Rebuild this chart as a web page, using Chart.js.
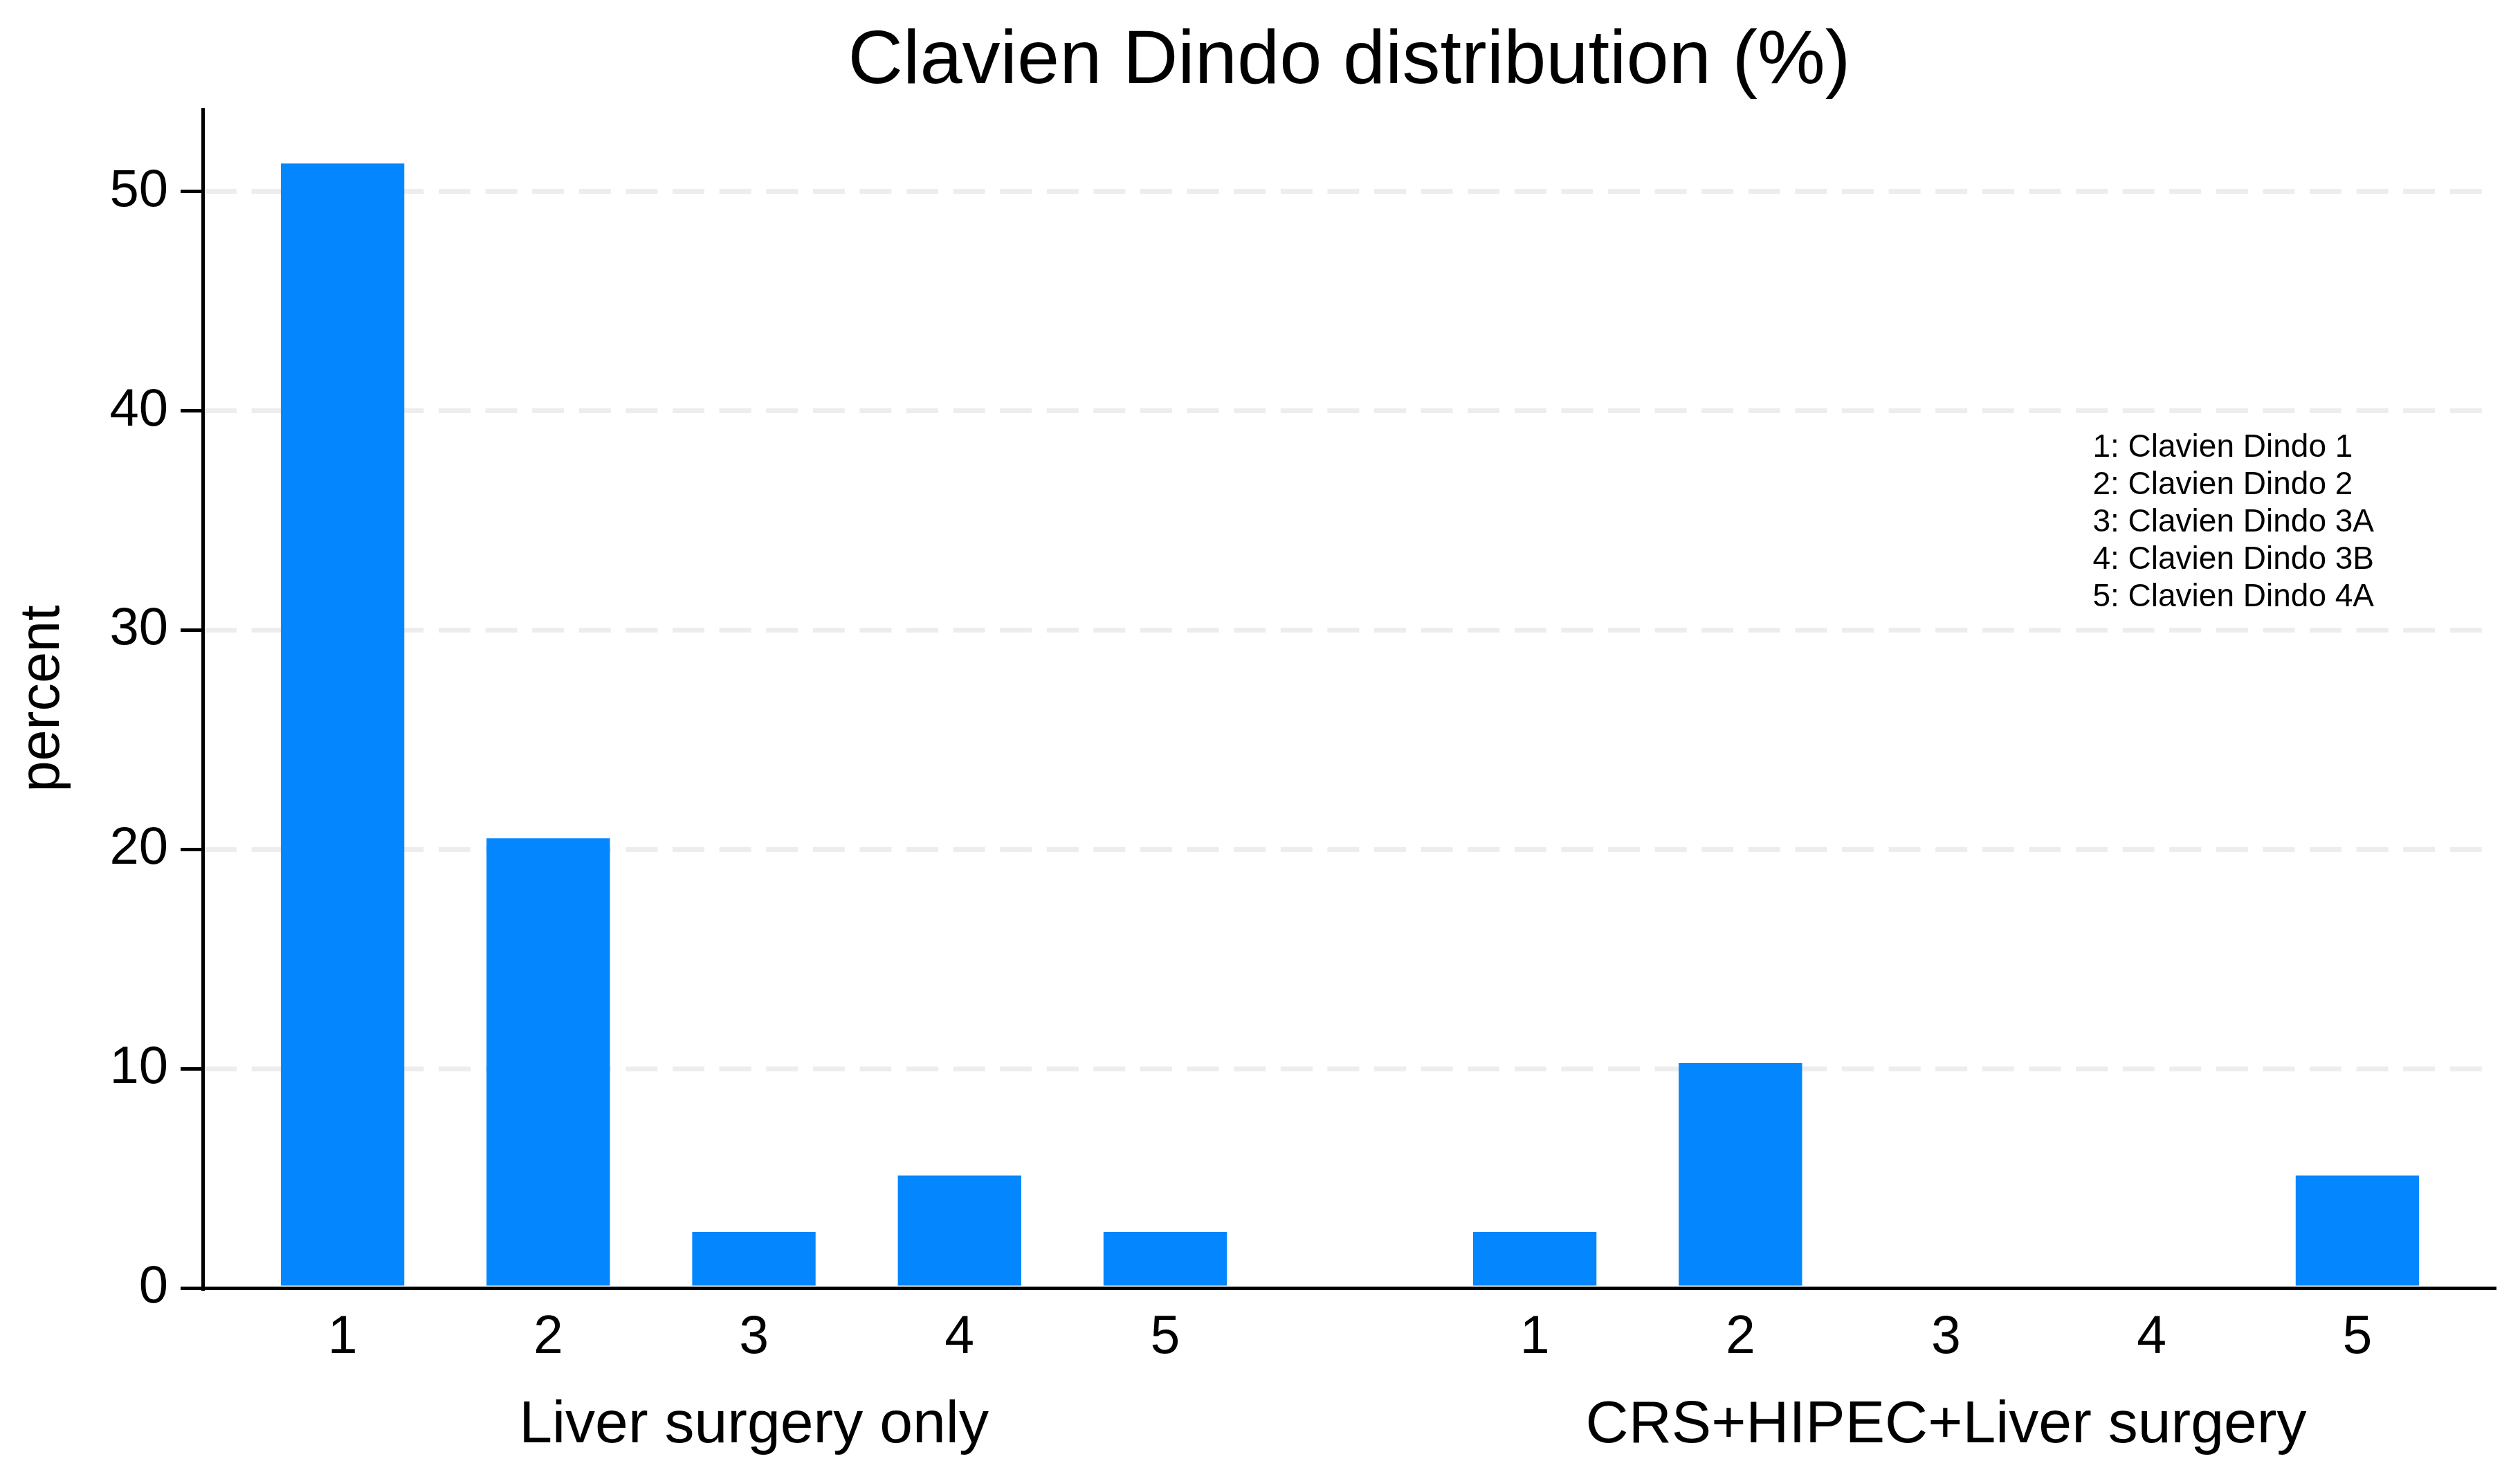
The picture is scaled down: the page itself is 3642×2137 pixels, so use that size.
<!DOCTYPE html>
<html><head><meta charset="utf-8">
<script src="https://cdn.jsdelivr.net/npm/chart.js@4/dist/chart.umd.min.js"></script>
<style>html,body{margin:0;padding:0;background:#fff;} canvas{display:block;background:#fff;}</style>
</head><body>
<canvas id="c" width="3642" height="2137"></canvas>
<script>
// ---- data ----
const titleText = "Clavien Dindo distribution (%)";
const yAxisTitle = "percent";
const groupLabels = ["Liver surgery only", "CRS+HIPEC+Liver surgery"];
const categoryLabels = ["1", "2", "3", "4", "5"];
const liverSurgeryOnly = [51.28, 20.51, 2.56, 5.13, 2.56];
const crsHipecLiver = [2.56, 10.26, 0, 0, 5.13];
const yTickValues = [0, 10, 20, 30, 40, 50];
const noteLines = ["1: Clavien Dindo 1", "2: Clavien Dindo 2", "3: Clavien Dindo 3A", "4: Clavien Dindo 3B", "5: Clavien Dindo 4A"];

// ---- layout / style ----
const FONT = "'Liberation Sans', Arial, Helvetica, sans-serif";
const BAR_COLOR = '#0486FF';
const GROUP_GAP = 0.797;
const X_MIN = 0.32, X_MAX = 11.47, Y_MAX = 53.75;
const NOTE_X = 9.51, NOTE_Y = 37.9, NOTE_LINE = 54;

const seriesByGroup = [liverSurgeryOnly, crsHipecLiver];
const barPositions = [], barPoints = [], barTickLabels = [];
seriesByGroup.forEach((vals, g) => vals.forEach((v, i) => {
  const pos = 1 + i + g * (categoryLabels.length + GROUP_GAP);
  barPositions.push(pos);
  barPoints.push({x: pos, y: v});
  barTickLabels.push(categoryLabels[i]);
}));
const groupCenters = groupLabels.map((_, g) => 1 + (categoryLabels.length - 1) / 2 + g * (categoryLabels.length + GROUP_GAP));

const notePlugin = {
  id: 'note',
  afterDatasetsDraw(chart) {
    const {ctx, scales: {x, y}} = chart;
    ctx.save();
    ctx.font = `46px ${FONT}`;
    ctx.fillStyle = '#000';
    ctx.textAlign = 'left';
    ctx.textBaseline = 'alphabetic';
    const x0 = x.getPixelForValue(NOTE_X);
    const y0 = y.getPixelForValue(NOTE_Y);
    noteLines.forEach((t, i) => ctx.fillText(t, x0, y0 + i * NOTE_LINE));
    ctx.restore();
  }
};

new Chart(document.getElementById('c'), {
  type: 'bar',
  data: {
    datasets: [{
      data: barPoints,
      backgroundColor: BAR_COLOR,
      borderWidth: 0,
      categoryPercentage: 1,
      barPercentage: 0.6
    }]
  },
  plugins: [notePlugin],
  options: {
    responsive: false,
    devicePixelRatio: 1,
    animation: false,
    layout: {padding: {left: 0, right: 35, top: 0, bottom: 0}},
    plugins: {
      legend: {display: false},
      tooltip: {enabled: false},
      title: {
        display: true, text: titleText, fullSize: false, color: '#000',
        font: {family: FONT, size: 110, weight: 'normal', lineHeight: 1.2},
        padding: {top: 24, bottom: 2}
      }
    },
    scales: {
      x: {
        type: 'linear', position: 'bottom', weight: 0, min: X_MIN, max: X_MAX, offset: false,
        grid: {display: false, drawTicks: false, offset: false},
        border: {display: true, color: '#000', width: 5},
        afterBuildTicks: s => { s.ticks = barPositions.map(v => ({value: v})); },
        ticks: {autoSkip: false, maxRotation: 0, minRotation: 0, padding: 27, color: '#000',
          font: {family: FONT, size: 77}, callback: (v, i) => barTickLabels[i]},
        afterFit: s => { s.height = 119; }
      },
      x2: {
        type: 'linear', position: 'bottom', weight: 1, min: X_MIN, max: X_MAX, offset: false,
        grid: {display: false, drawTicks: false},
        border: {display: false},
        afterBuildTicks: s => { s.ticks = groupCenters.map(v => ({value: v})); },
        ticks: {autoSkip: false, maxRotation: 0, minRotation: 0, padding: 29, color: '#000',
          font: {family: FONT, size: 86}, callback: (v, i) => groupLabels[i]},
        afterFit: s => { s.height = 157; }
      },
      y: {
        type: 'linear', position: 'left', min: 0, max: Y_MAX,
        afterBuildTicks: s => { s.ticks = yTickValues.map(v => ({value: v})); },
        grid: {
          display: true, drawTicks: true, tickLength: 32, tickWidth: 5, tickColor: '#000', tickBorderDash: [],
          lineWidth: 7,
          color: c => (c.tick && c.tick.value === 0) ? 'rgba(0,0,0,0)' : '#EDEDED'
        },
        border: {display: true, color: '#000', width: 5, dash: [46, 21.6]},
        ticks: {padding: 18, color: '#000', font: {family: FONT, size: 76}},
        title: {display: true, text: yAxisTitle, color: '#000', font: {family: FONT, size: 81}, padding: {top: 14, bottom: 0}},
        afterFit: s => { s.width = 293; }
      }
    }
  }
});
</script>
</body></html>
